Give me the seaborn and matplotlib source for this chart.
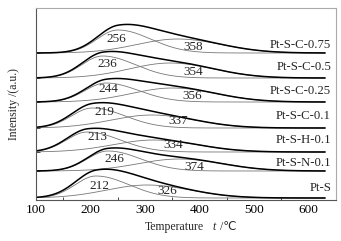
import numpy as np
import pandas as pd
import matplotlib
matplotlib.use("Agg")
import matplotlib.pyplot as plt
import seaborn as sns
from matplotlib.ticker import MultipleLocator

sns.set_theme(style="white")
plt.rcParams['font.family'] = ['Liberation Serif', 'DejaVu Sans']

# ---- data ----
samples = ["Pt-S-C-0.75", "Pt-S-C-0.5", "Pt-S-C-0.25", "Pt-S-C-0.1",
           "Pt-S-H-0.1", "Pt-S-N-0.1", "Pt-S"]
baseline = [147, 122, 98, 72, 48, 29, 2]
peak1_label = [256, 236, 244, 219, 213, 246, 212]
peak2_label = [358, 354, 356, 337, 334, 374, 326]
peak1_T = [250, 222, 228, 203, 194, 232, 210]
peak1_h = [23, 22, 19, 20, 20, 20, 22]
peak2_T = [360, 346, 350, 312, 316, 362, 304]
peak2_h = [14, 15, 14, 13, 12, 12, 13]
lab1_xy = [(248, 161), (231, 136), (233, 111), (225, 88), (212, 63), (244, 41), (217, 14)]
lab2_xy = [(388, 153), (388, 128), (387, 104), (360, 79), (351, 55), (390, 33), (341, 9)]
name_y = [155, 133, 109, 84, 60, 37, 12]
T = np.linspace(100, 630, 400)


def half_gauss(x, c, h, sl, sr):
    s = np.where(x < c, sl, sr)
    return h * np.exp(-(x - c) ** 2 / (2 * s ** 2))


fig = plt.figure(figsize=(3.41, 2.41), dpi=100)
ax = fig.add_axes([36/341, 41/241, 300/341, 192/241])

for i, name in enumerate(samples):
    b = baseline[i]
    g1 = half_gauss(T, peak1_T[i], peak1_h[i], 38, 60)
    g2 = half_gauss(T, peak2_T[i], peak2_h[i], 75, 80)
    df = pd.DataFrame({"T": T, "total": b + g1 + g2, "c1": b + g1, "c2": b + g2})
    sns.lineplot(data=df, x="T", y="c1", ax=ax, color="#777777", lw=0.6)
    sns.lineplot(data=df, x="T", y="c2", ax=ax, color="#777777", lw=0.6)
    sns.lineplot(data=df, x="T", y="total", ax=ax, color="black", lw=1.1)
    ax.text(lab1_xy[i][0], lab1_xy[i][1], str(peak1_label[i]), ha="center", va="center", fontsize=9.5)
    ax.text(lab2_xy[i][0], lab2_xy[i][1], str(peak2_label[i]), ha="center", va="center", fontsize=9.5)
    ax.text(641, name_y[i], name, ha="right", va="center", fontsize=9.2)

ax.set_xlim(100, 650)
ax.set_ylim(0, 192)
ax.xaxis.set_major_locator(MultipleLocator(100))
ax.xaxis.set_minor_locator(MultipleLocator(50))
ax.set_yticks(baseline[:-1])
ax.set_yticklabels([])
ax.tick_params(axis="x", which="major", direction="in", length=4, width=0.7, labelsize=9.5, pad=3, colors="black")
ax.tick_params(axis="x", which="minor", direction="in", length=2, width=0.6, bottom=True)
ax.tick_params(axis="y", which="major", direction="in", length=3, width=0.6, left=True)
for k, s in ax.spines.items():
    s.set_color("#555555" if k in ("left", "bottom") else "#aaaaaa")
    s.set_linewidth(0.8)
ax.set_xlabel("")
ax.set_ylabel("Intensity /(a.u.)", fontsize=8.5, labelpad=8)

fig.text(145/341, 1 - 227/241, "Temperature", ha="left", va="center", fontsize=8.5)
fig.text(212/341, 1 - 227/241, "t", ha="left", va="center", fontsize=8.5, style="italic")
fig.text(217/341, 1 - 227/241, " /℃", ha="left", va="center", fontsize=8.5)

fig.savefig("out.png", dpi=100)
